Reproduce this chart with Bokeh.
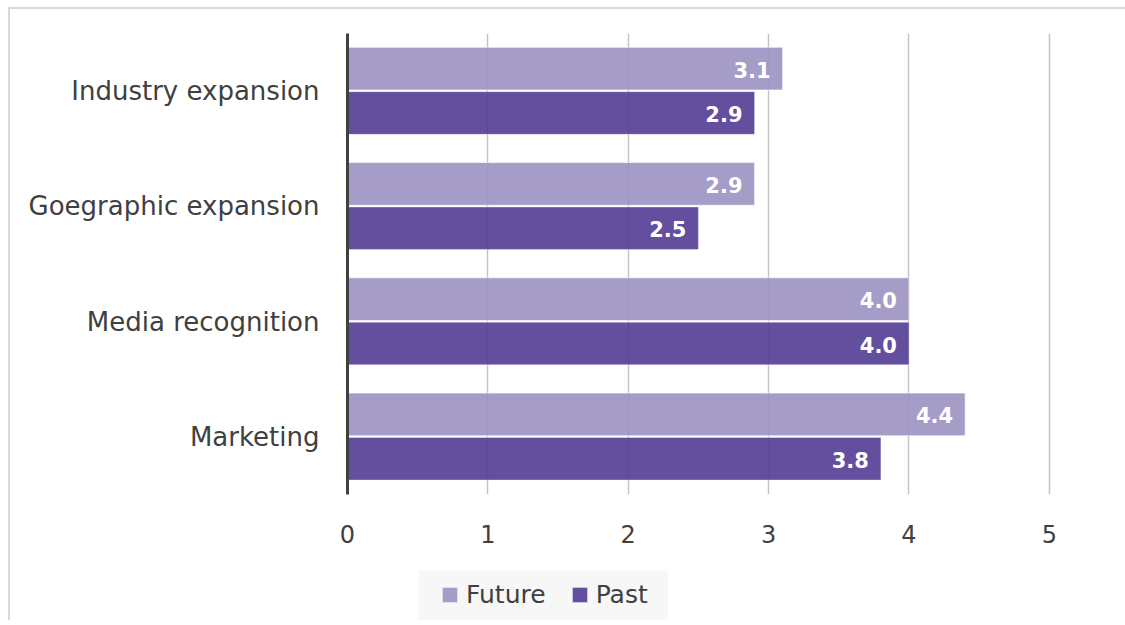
from bokeh.plotting import figure
from bokeh.layouts import column, row
from bokeh.models import ColumnDataSource, FactorRange, FixedTicker, Legend, LegendItem, Spacer
from bokeh.transform import dodge
from bokeh.core.properties import value
from bokeh.embed import file_html
from bokeh.resources import INLINE

categories = ["Industry expansion", "Goegraphic expansion", "Media recognition", "Marketing"]
future = [3.1, 2.9, 4.0, 4.4]
past = [2.9, 2.5, 4.0, 3.8]
x_ticks = [0, 1, 2, 3, 4, 5]
series = ["Future", "Past"]
colors = ["#9B91C2", "#533B93"]

FONT = "DejaVu Sans"
TXT = "#404040"

src = ColumnDataSource(dict(
    cat=categories,
    future=future,
    past=past,
    future_lbl=[f"{v:.1f}" for v in future],
    past_lbl=[f"{v:.1f}" for v in past],
))

# content starts at (10, 9) because of margin + 2px border
p = figure(width=1115, height=551, output_backend="svg", toolbar_location=None,
           y_range=FactorRange(factors=list(reversed(categories))),
           x_range=(0, 5.4),
           min_border_left=337, min_border_right=20, min_border_top=24, min_border_bottom=66)
p.outline_line_color = None
p.background_fill_color = "white"
p.border_fill_color = "white"

p.hbar(y=dodge("cat", 0.195, range=p.y_range), right="future", left=0, height=0.37, source=src,
       fill_color=colors[0], fill_alpha=0.9, line_color="white", line_alpha=0.6, line_width=1)
p.hbar(y=dodge("cat", -0.19, range=p.y_range), right="past", left=0, height=0.37, source=src,
       fill_color=colors[1], fill_alpha=0.9, line_color="white", line_alpha=0.4, line_width=1)

p.text(x="future", y=dodge("cat", 0.195, range=p.y_range), text="future_lbl", source=src,
       text_align="right", text_baseline="middle", x_offset=-12, y_offset=1,
       text_color="white", text_font=value(FONT), text_font_style="bold", text_font_size="21px")
p.text(x="past", y=dodge("cat", -0.19, range=p.y_range), text="past_lbl", source=src,
       text_align="right", text_baseline="middle", x_offset=-12, y_offset=1,
       text_color="white", text_font=value(FONT), text_font_style="bold", text_font_size="21px")

# axes
p.xaxis.ticker = FixedTicker(ticks=x_ticks)
p.xaxis.axis_line_color = None
p.xaxis.major_tick_line_color = None
p.xaxis.major_tick_out = 0
p.xaxis.major_tick_in = 0
p.xaxis.minor_tick_line_color = None
p.xaxis.major_label_text_font = FONT
p.xaxis.major_label_text_font_size = "24px"
p.xaxis.major_label_text_color = TXT
p.xaxis.major_label_standoff = 30

p.yaxis.axis_line_color = "#404040"
p.yaxis.axis_line_width = 3
p.yaxis.major_tick_line_color = None
p.yaxis.major_tick_out = 0
p.yaxis.major_tick_in = 0
p.yaxis.minor_tick_line_color = None
p.yaxis.major_label_text_font = FONT
p.yaxis.major_label_text_font_size = "26px"
p.yaxis.major_label_text_color = TXT
p.yaxis.major_label_standoff = 28

p.ygrid.grid_line_color = None
p.xgrid.grid_line_color = "#c4c4c4"
p.xgrid.grid_line_width = 1.5

# legend figure
lf = figure(width=250, height=50, output_backend="svg", toolbar_location=None,
            x_range=(0, 1), y_range=(0, 1), x_axis_type=None, y_axis_type=None,
            min_border=0)
lf.outline_line_color = None
lf.background_fill_color = "#f7f7f7"
lf.border_fill_color = "#f7f7f7"
lf.xgrid.grid_line_color = None
lf.ygrid.grid_line_color = None
items = []
for name, c in zip(series, colors):
    # a single off-screen bar, only so that the legend swatch is drawn
    r = lf.hbar(y=[-5], right=[11], left=10, height=0.5, fill_color=c, fill_alpha=0.9,
                line_color="white", line_alpha=0.5)
    items.append(LegendItem(label=name, renderers=[r]))
legend = Legend(items=items, orientation="horizontal", location=(22, 11))
legend.background_fill_alpha = 0
legend.border_line_color = None
legend.label_text_font = FONT
legend.label_text_font_size = "25px"
legend.label_text_color = TXT
legend.glyph_width = 19
legend.glyph_height = 19
legend.label_standoff = 7
legend.spacing = 24
legend.padding = 8
legend.margin = 0
lf.add_layout(legend, "center")

layout = column(p, Spacer(height=10), row(Spacer(width=408), lf))
layout.margin = (7, 0, 0, 8)
layout.styles = {"border-top": "2px solid #d9d9d9", "border-left": "2px solid #d9d9d9",
                 "background-color": "white"}

open("out.html", "w").write(file_html(layout, INLINE))
